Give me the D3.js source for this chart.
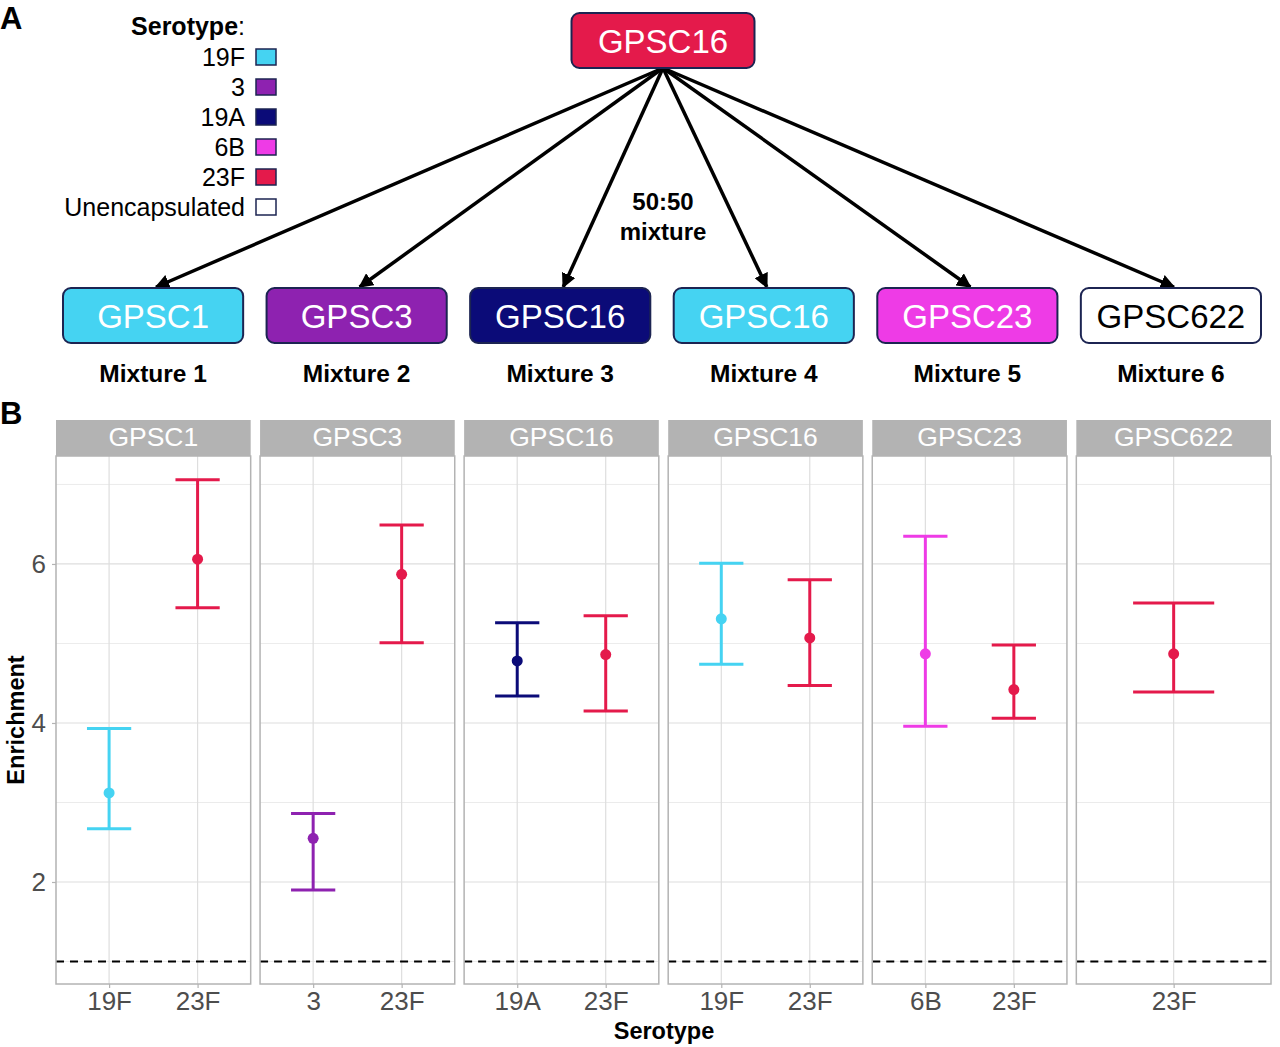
<!DOCTYPE html>
<html>
<head>
<meta charset="utf-8">
<script src="https://cdn.jsdelivr.net/npm/d3@7"></script>
<style>
  body { margin: 0; background: #fff; }
  svg { display: block; font-family: "Liberation Sans", Arial, sans-serif; }
</style>
</head>
<body>
<svg id="chart" width="1280" height="1047"></svg>
<script>
// serotype colours
const legendSerotypes = ['19F', '3', '19A', '6B', '23F', 'Unencapsulated'];
const legendColors = ['#45d3f2', '#8e22b0', '#0b0b78', '#ee3be6', '#e41a4b', '#ffffff'];

// panel A: donor and recipient strains
const donorGpsc = 'GPSC16';
const donorSerotype = '23F';
const mixtureGpsc = ['GPSC1', 'GPSC3', 'GPSC16', 'GPSC16', 'GPSC23', 'GPSC622'];
const mixtureSerotype = ['19F', '3', '19A', '19F', '6B', 'Unencapsulated'];
const mixtureNames = ['Mixture 1', 'Mixture 2', 'Mixture 3', 'Mixture 4', 'Mixture 5', 'Mixture 6'];

// panel B: enrichment per serotype
const panelNames = ['GPSC1', 'GPSC3', 'GPSC16', 'GPSC16', 'GPSC23', 'GPSC622'];
const panelSerotypes = [['19F', '23F'], ['3', '23F'], ['19A', '23F'], ['19F', '23F'], ['6B', '23F'], ['23F']];
const enrichMean = [[3.12, 6.06], [2.55, 5.87], [4.78, 4.86], [5.31, 5.07], [4.87, 4.42], [4.87]];
const enrichLow = [[2.67, 5.45], [1.90, 5.01], [4.34, 4.15], [4.74, 4.47], [3.96, 4.06], [4.39]];
const enrichHigh = [[3.93, 7.06], [2.86, 6.49], [5.26, 5.35], [6.01, 5.80], [6.35, 4.98], [5.51]];
const yTicks = [2, 4, 6];
const refLine = 1;

const color = d3.scaleOrdinal().domain(legendSerotypes).range(legendColors);
const svg = d3.select('#chart');
const boxStroke = '#1c2452';
const font = '"Liberation Sans", Arial, sans-serif';

// ---------- A ----------
svg.append('text').attr('x', 0).attr('y', 29)
  .attr('font-size', 31).attr('font-weight', 'bold').text('A');

const legend = svg.append('g');
const lt = legend.append('text').attr('x', 245).attr('y', 35)
  .attr('text-anchor', 'end').attr('font-size', 25);
lt.append('tspan').attr('font-weight', 'bold').text('Serotype');
lt.append('tspan').text(':');

const legY = d3.scalePoint().domain(legendSerotypes).range([57, 207]);
legendSerotypes.forEach(s => {
  legend.append('text').attr('x', 245).attr('y', legY(s) + 9)
    .attr('text-anchor', 'end').attr('font-size', 25).text(s);
  legend.append('rect').attr('x', 256).attr('y', legY(s) - 8)
    .attr('width', 20).attr('height', 16)
    .attr('fill', color(s)).attr('stroke', boxStroke).attr('stroke-width', 1.5);
});

svg.append('defs').append('marker')
  .attr('id', 'arrow').attr('viewBox', '0 0 10 10')
  .attr('refX', 9).attr('refY', 5)
  .attr('markerWidth', 4.2).attr('markerHeight', 4.2)
  .attr('orient', 'auto')
  .append('path').attr('d', 'M0,0L10,5L0,10z').attr('fill', '#000');

const boxX = d3.scaleBand().domain(d3.range(mixtureGpsc.length))
  .range([63, 1261]).paddingInner(0.115);
const donorX = 663, donorW = 183, boxH = 55;

// arrows
mixtureGpsc.forEach((g, i) => {
  const cx = boxX(i) + boxX.bandwidth() / 2;
  svg.append('line')
    .attr('x1', donorX).attr('y1', 68)
    .attr('x2', cx + 3).attr('y2', 287)
    .attr('stroke', '#000').attr('stroke-width', 3.5)
    .attr('marker-end', 'url(#arrow)');
});

svg.append('rect').attr('x', donorX - donorW / 2).attr('y', 13)
  .attr('width', donorW).attr('height', boxH).attr('rx', 8)
  .attr('fill', color(donorSerotype)).attr('stroke', boxStroke).attr('stroke-width', 2);
svg.append('text').attr('x', donorX).attr('y', 53).attr('text-anchor', 'middle')
  .attr('font-size', 33).attr('fill', '#fff').text(donorGpsc);

svg.append('text').attr('x', donorX).attr('y', 210).attr('text-anchor', 'middle')
  .attr('font-size', 24).attr('font-weight', 'bold').text('50:50');
svg.append('text').attr('x', donorX).attr('y', 240).attr('text-anchor', 'middle')
  .attr('font-size', 24).attr('font-weight', 'bold').text('mixture');

mixtureGpsc.forEach((g, i) => {
  const x0 = boxX(i), cx = x0 + boxX.bandwidth() / 2;
  const s = mixtureSerotype[i];
  svg.append('rect').attr('x', x0).attr('y', 288)
    .attr('width', boxX.bandwidth()).attr('height', boxH).attr('rx', 8)
    .attr('fill', color(s)).attr('stroke', boxStroke).attr('stroke-width', 2);
  svg.append('text').attr('x', cx).attr('y', 328).attr('text-anchor', 'middle')
    .attr('font-size', 33).attr('fill', s === 'Unencapsulated' ? '#000' : '#fff').text(g);
  svg.append('text').attr('x', cx).attr('y', 382).attr('text-anchor', 'middle')
    .attr('font-size', 24.5).attr('font-weight', 'bold').text(mixtureNames[i]);
});

// ---------- B ----------
svg.append('text').attr('x', 0).attr('y', 424)
  .attr('font-size', 31).attr('font-weight', 'bold').text('B');

const plotTop = 456, plotBottom = 984, stripH = 36;
const panelX = d3.scaleBand().domain(d3.range(panelNames.length))
  .range([56, 1271]).paddingInner(0.046);
const y = d3.scaleLinear().domain([0.717, 7.358]).range([plotBottom, plotTop]);
const grey70 = '#b3b3b3', grey87 = '#dedede', grey30 = '#4d4d4d';

panelNames.forEach((name, p) => {
  const w = panelX.bandwidth();
  const g = svg.append('g').attr('transform', `translate(${panelX(p)},0)`);
  const x = d3.scalePoint().domain(panelSerotypes[p]).range([0, w]).padding(0.6);

  // grid
  g.selectAll('.minor').data([1, 3, 5, 7]).join('line')
    .attr('x1', 0).attr('x2', w).attr('y1', d => y(d)).attr('y2', d => y(d))
    .attr('stroke', grey87).attr('stroke-width', 0.6);
  g.selectAll('.major').data(yTicks).join('line')
    .attr('x1', 0).attr('x2', w).attr('y1', d => y(d)).attr('y2', d => y(d))
    .attr('stroke', grey87).attr('stroke-width', 1.2);
  g.selectAll('.vgrid').data(panelSerotypes[p]).join('line')
    .attr('x1', d => x(d)).attr('x2', d => x(d)).attr('y1', plotTop).attr('y2', plotBottom)
    .attr('stroke', grey87).attr('stroke-width', 1.2);

  // reference line
  g.append('line').attr('x1', 0).attr('x2', w)
    .attr('y1', y(refLine)).attr('y2', y(refLine))
    .attr('stroke', '#000').attr('stroke-width', 1.8).attr('stroke-dasharray', '8,6');

  // error bars
  const cap = x.step() * 0.25;
  panelSerotypes[p].forEach((s, i) => {
    const c = color(s), cx = x(s);
    g.append('line').attr('x1', cx).attr('x2', cx)
      .attr('y1', y(enrichLow[p][i])).attr('y2', y(enrichHigh[p][i]))
      .attr('stroke', c).attr('stroke-width', 3);
    [enrichLow[p][i], enrichHigh[p][i]].forEach(v => {
      g.append('line').attr('x1', cx - cap).attr('x2', cx + cap)
        .attr('y1', y(v)).attr('y2', y(v))
        .attr('stroke', c).attr('stroke-width', 3);
    });
    g.append('circle').attr('cx', cx).attr('cy', y(enrichMean[p][i])).attr('r', 5.5)
      .attr('fill', c);
  });

  // border and strip
  g.append('rect').attr('x', 0).attr('y', plotTop).attr('width', w).attr('height', plotBottom - plotTop)
    .attr('fill', 'none').attr('stroke', grey70).attr('stroke-width', 1.5);
  g.append('rect').attr('x', 0).attr('y', plotTop - stripH).attr('width', w).attr('height', stripH)
    .attr('fill', grey70);
  g.append('text').attr('x', w / 2).attr('y', plotTop - 10).attr('text-anchor', 'middle')
    .attr('font-size', 26.5).attr('fill', '#fff').text(name);

  // x axis
  const xa = g.append('g').attr('transform', `translate(0,${plotBottom})`)
    .call(d3.axisBottom(x).tickSize(4).tickPadding(4));
  xa.attr('font-size', 26).attr('font-family', font);
  xa.select('.domain').remove();
  xa.selectAll('line').attr('stroke', grey70).attr('stroke-width', 1.2);
  xa.selectAll('text').attr('fill', grey30);

  if (p === 0) {
    const ya = g.append('g')
      .call(d3.axisLeft(y).tickValues(yTicks).tickFormat(d3.format('d')).tickSize(4).tickPadding(6));
    ya.attr('font-size', 26).attr('font-family', font);
    ya.select('.domain').remove();
    ya.selectAll('line').attr('stroke', grey70).attr('stroke-width', 1.2);
    ya.selectAll('text').attr('fill', grey30);
  }
});

svg.append('text').attr('x', 664).attr('y', 1039).attr('text-anchor', 'middle')
  .attr('font-size', 23.5).attr('font-weight', 'bold').text('Serotype');
svg.append('text').attr('transform', 'translate(24,720) rotate(-90)')
  .attr('text-anchor', 'middle').attr('font-size', 23.5).attr('font-weight', 'bold')
  .text('Enrichment');
</script>
</body>
</html>
